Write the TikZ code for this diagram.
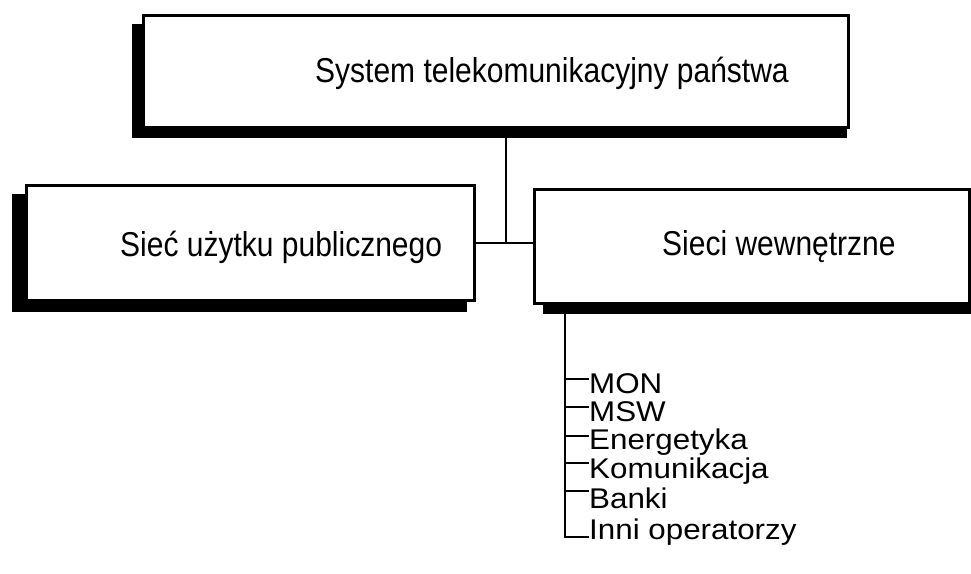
\documentclass[tikz,border=0pt]{standalone}
\usepackage{fontspec}
\setmainfont{Liberation Sans}
\newcommand{\tall}[1]{\scalebox{1}[1.15]{#1}}
\newcommand{\wide}[1]{\scalebox{1.1}[1]{#1}}
\begin{document}
\begin{tikzpicture}[x=1pt,y=-1pt,
  frame/.style={draw=black,line width=2.8pt,fill=white,inner sep=0pt,anchor=north west},
  shadowfill/.style={fill=black},
  lbl/.style={inner sep=0pt,font=\fontsize{30}{36}\selectfont},
  item/.style={inner sep=0pt,anchor=base west,font=\fontsize{28.5}{34}\selectfont},
  conn/.style={draw=black,line width=2.6pt}]
\useasboundingbox (0,0) rectangle (971,573);
% shadows
\fill[shadowfill] (132,24) rectangle (847,138);
\fill[shadowfill] (12,194) rectangle (467,312);
\fill[shadowfill] (543,198) rectangle (975,314);
% boxes
\node[frame,minimum width=705pt,minimum height=112pt] (top) at (142,14) {};
\node[frame,minimum width=448pt,minimum height=115pt] (left) at (25,184) {};
\node[frame,minimum width=435pt,minimum height=114pt] (right) at (533,188) {};
% labels
\node[lbl,anchor=base west] (toptxt) at (315,82) {\tall{System telekomunikacyjny państwa}};
\node[lbl,anchor=base west] (lefttxt) at (120,256) {\tall{Sieć użytku publicznego}};
\node[lbl,anchor=base west] (righttxt) at (662,255) {\tall{Sieci wewnętrzne}};
% connectors
\coordinate (j) at (506,243);
\draw[conn] (506,138) -- (j);
\draw[conn] (left.east |- j) -- (right.west |- j);
% list
\node[item] (i1) at (589,393) {\wide{MON}};
\node[item] (i2) at (589,421) {\wide{MSW}};
\node[item] (i3) at (589,449) {\wide{Energetyka}};
\node[item] (i4) at (589,478) {\wide{Komunikacja}};
\node[item] (i5) at (589,508) {\wide{Banki}};
\node[item] (i6) at (589,539) {\wide{Inni operatorzy}};
\coordinate (ls) at (565,314);
\coordinate (t1) at (565,379);
\coordinate (t2) at (565,407);
\coordinate (t3) at (565,436);
\coordinate (t4) at (565,463);
\coordinate (t5) at (565,491);
\coordinate (t6) at (565,537);
\draw[conn] (ls) -- (t6) -- (t6 -| i6.west);
\draw[conn] (t1) -- (t1 -| i1.west);
\draw[conn] (t2) -- (t2 -| i2.west);
\draw[conn] (t3) -- (t3 -| i3.west);
\draw[conn] (t4) -- (t4 -| i4.west);
\draw[conn] (t5) -- (t5 -| i5.west);
\end{tikzpicture}
\end{document}
